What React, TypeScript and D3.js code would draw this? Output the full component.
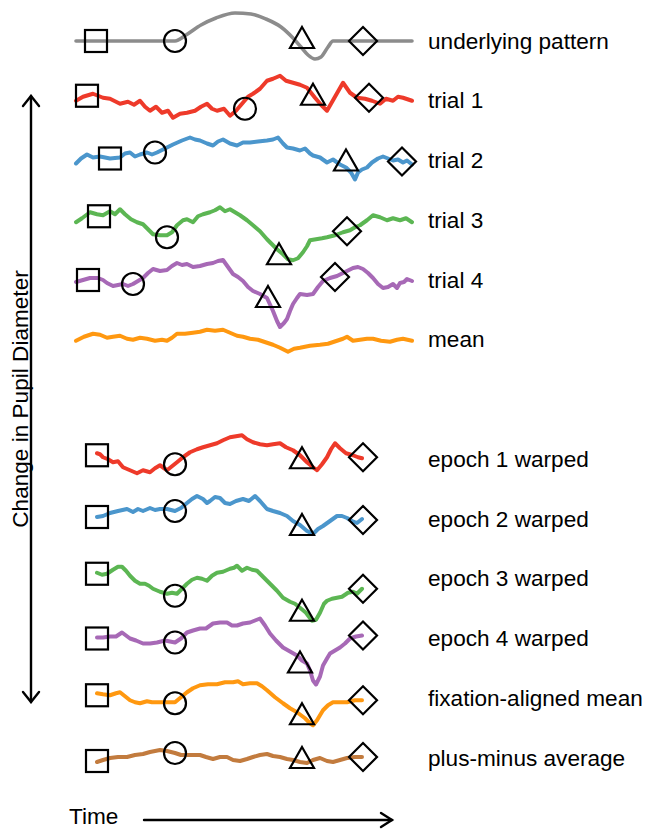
import React from "react";
import * as d3 from "d3";

type P = [number, number];

// time in samples (0..336), value = change in pupil diameter (arbitrary units, up positive)
const underlying: P[] = [[0,0],[99,0],[110,6],[125,16],[140,23],[159,28],[175,27],[190,22],[205,14],[217,3],[225,-6],[232,-14],[239,-18],[245,-16],[252,-6],[257,0],[336,0]];

const trial1: P[] = [[0,0],[7,4],[17,7],[27,3],[34,2],[44,-3],[52,-1],[58,-4],[64,0],[69,-6],[74,-10],[80,-6],[86,-12],[92,-10],[97,-17],[104,-13],[111,-12],[119,-10],[125,-6],[131,-3],[136,-8],[141,-10],[148,-8],[154,-15],[160,-10],[166,-3],[172,4],[177,7],[184,12],[191,20],[197,22],[204,25],[210,20],[217,18],[224,16],[231,13],[239,3],[245,-4],[251,-10],[259,4],[267,18],[274,8],[281,3],[289,2],[296,0],[304,-3],[310,2],[317,0],[322,4],[327,3],[336,0]];
const trial2: P[] = [[0,-3],[5,2],[11,6],[17,3],[24,4],[34,2],[44,3],[49,7],[54,8],[59,4],[64,6],[71,8],[76,6],[81,8],[89,12],[97,16],[106,20],[114,23],[119,21],[124,20],[131,17],[137,15],[142,19],[147,21],[154,17],[161,15],[167,18],[174,18],[182,19],[191,20],[197,21],[202,23],[207,17],[211,13],[217,12],[224,10],[229,12],[234,7],[237,5],[244,3],[251,-2],[257,1],[264,-4],[270,-7],[275,-12],[279,-19],[282,-12],[286,-9],[291,-7],[296,-2],[302,2],[307,4],[312,2],[317,0],[322,1],[327,-2],[331,0],[336,-4]];
const trial3: P[] = [[0,-2],[6,2],[14,8],[21,6],[27,5],[34,9],[39,6],[44,11],[49,6],[55,1],[61,-2],[67,-4],[72,-9],[77,-14],[84,-15],[91,-15],[96,-12],[101,-5],[107,0],[111,1],[117,-2],[122,4],[127,6],[134,8],[139,10],[144,13],[149,9],[154,11],[159,8],[164,5],[171,0],[177,-5],[184,-11],[191,-19],[196,-24],[201,-29],[207,-34],[212,-39],[217,-40],[222,-38],[227,-32],[231,-26],[234,-20],[240,-19],[246,-18],[251,-17],[259,-15],[267,-12],[274,-10],[279,-7],[284,-5],[291,0],[297,5],[304,3],[311,0],[317,2],[324,0],[330,2],[336,-2]];
const trial4: P[] = [[0,-2],[7,0],[14,2],[22,2],[27,0],[31,-3],[37,-6],[42,-5],[47,-4],[52,-6],[57,-4],[62,-1],[67,2],[72,7],[77,11],[84,9],[91,10],[96,14],[101,17],[106,15],[111,16],[117,13],[124,14],[131,16],[137,17],[142,19],[147,20],[152,13],[157,6],[162,3],[167,-1],[172,-7],[177,-11],[184,-14],[191,-18],[197,-31],[201,-41],[204,-47],[208,-43],[211,-39],[214,-31],[217,-24],[221,-18],[224,-14],[231,-15],[237,-14],[242,-7],[247,-1],[254,2],[261,4],[269,8],[277,12],[282,13],[287,11],[292,7],[297,2],[302,-4],[307,-8],[312,-7],[317,-4],[321,-8],[324,-3],[328,-2],[331,1],[336,-1]];
const meanTrials: P[] = [[0,-1],[8,3],[17,6],[24,5],[31,2],[37,3],[44,4],[51,1],[57,0],[64,2],[71,1],[79,-1],[86,0],[91,-1],[96,2],[101,6],[109,6],[117,7],[124,8],[131,10],[139,9],[147,10],[154,7],[161,4],[167,3],[174,1],[182,0],[191,-3],[197,-5],[204,-8],[212,-12],[218,-9],[224,-8],[234,-6],[244,-5],[252,-4],[261,-1],[267,1],[271,3],[277,-1],[284,0],[291,1],[297,1],[305,-1],[314,-2],[321,0],[327,1],[336,-1]];

const epoch1: P[] = [[21,6],[24,5],[27,2],[32,0],[37,-3],[42,-2],[47,-8],[54,-11],[61,-14],[67,-11],[74,-13],[79,-9],[84,-6],[91,-11],[96,-7],[101,-3],[107,2],[114,7],[121,10],[127,12],[134,14],[141,16],[147,19],[154,22],[160,23],[166,24],[171,20],[177,17],[184,15],[191,14],[197,15],[204,16],[210,12],[217,9],[224,4],[231,-3],[237,-8],[241,-11],[246,-5],[251,2],[255,10],[259,16],[264,11],[270,6],[277,4],[282,2],[286,1]];
const epoch2: P[] = [[21,2],[27,3],[34,6],[42,8],[51,10],[57,7],[62,10],[67,8],[74,11],[79,9],[84,10],[91,10],[99,8],[105,11],[111,16],[116,20],[121,23],[127,20],[131,16],[134,18],[139,22],[144,21],[149,16],[154,15],[160,18],[167,20],[173,18],[179,23],[184,18],[191,10],[197,8],[204,6],[211,3],[217,-2],[224,-6],[231,-12],[237,-15],[242,-10],[247,-7],[254,-2],[261,3],[266,3],[271,1],[276,-2],[281,-4],[286,0]];
const epoch3: P[] = [[21,6],[26,4],[31,5],[37,9],[42,12],[46,12],[50,8],[54,3],[59,-2],[64,-5],[69,-5],[73,-7],[77,-10],[84,-13],[91,-15],[96,-14],[101,-15],[106,-10],[111,-5],[116,-1],[121,1],[126,0],[131,-2],[136,3],[141,6],[147,7],[154,10],[158,11],[161,13],[166,8],[171,11],[176,9],[181,8],[187,2],[194,-5],[201,-12],[207,-19],[214,-23],[219,-25],[224,-29],[230,-34],[236,-42],[240,-41],[244,-34],[248,-25],[251,-22],[256,-20],[261,-19],[266,-18],[272,-14],[277,-13],[281,-15],[286,-10]];
const epoch4: P[] = [[21,1],[27,1],[34,2],[40,2],[46,6],[50,3],[54,0],[60,-2],[67,-5],[74,-5],[81,-4],[89,-2],[99,-4],[105,0],[111,6],[117,8],[124,10],[130,10],[137,15],[144,16],[151,16],[156,13],[161,13],[167,15],[174,16],[179,18],[184,20],[189,13],[194,5],[200,-2],[207,-9],[214,-13],[221,-17],[226,-22],[231,-25],[234,-32],[237,-42],[240,-46],[244,-38],[247,-27],[251,-20],[254,-15],[259,-12],[264,-9],[269,-5],[274,0],[280,2],[286,3]];
const fixationMean: P[] = [[21,5],[27,4],[34,3],[40,5],[44,6],[49,2],[54,-2],[59,-4],[64,-5],[71,-3],[76,-4],[81,-4],[89,-4],[99,-4],[105,1],[111,6],[117,10],[124,13],[132,14],[141,14],[149,16],[157,16],[162,17],[167,14],[174,15],[181,15],[186,12],[191,8],[199,1],[207,-5],[214,-10],[221,-14],[229,-20],[234,-25],[237,-27],[241,-22],[247,-12],[252,-7],[257,-4],[264,-4],[271,-4],[279,-2],[286,-2]];
const plusMinus: P[] = [[21,-4],[27,-2],[34,0],[42,1],[51,1],[59,3],[67,4],[74,6],[84,8],[91,7],[99,5],[105,3],[111,3],[117,3],[124,3],[130,1],[137,-1],[144,1],[151,1],[157,-2],[164,-3],[171,-1],[177,1],[184,3],[191,4],[197,2],[204,1],[211,-1],[217,-2],[224,-4],[231,-5],[237,-2],[244,0],[251,-3],[257,-4],[264,-2],[271,0],[279,1],[286,1]];

// marker positions: [square, circle, triangle, diamond] as [time, value]
const markersUnderlying: P[] = [[20,0],[99,0],[226,3],[287,0]];
const markersTrial1: P[] = [[11,5],[169,-8],[237,6],[293,3]];
const markersTrial2: P[] = [[34,2],[79,8],[270,0],[326,-1]];
const markersTrial3: P[] = [[23,4],[91,-17],[203,-34],[271,-11]];
const markersTrial4: P[] = [[12,0],[57,-4],[192,-17],[259,3]];
const markersEpoch1: P[] = [[21,4],[99,-5],[226,1],[287,2]];
const markersEpoch2: P[] = [[21,2],[99,8],[226,-6],[287,-1]];
const markersEpoch3: P[] = [[21,5],[99,-17],[226,-32],[287,-10]];
const markersEpoch4: P[] = [[21,0],[99,-4],[224,-24],[287,3]];
const markersFixation: P[] = [[21,3],[99,-5],[226,-16],[287,-2]];
const markersPlusMinus: P[] = [[21,-3],[99,5],[226,0],[287,1]];

const labels = ["underlying pattern","trial 1","trial 2","trial 3","trial 4","mean","epoch 1 warped","epoch 2 warped","epoch 3 warped","epoch 4 warped","fixation-aligned mean","plus-minus average"];
const slots = [0,1,2,3,4,5,7,8,9,10,11,12];
const colors = ["#8c8c8c","#ee3a2a","#4b96cc","#5cb653","#a769b6","#ff9810","#ee3a2a","#4b96cc","#5cb653","#a769b6","#ff9810","#c27b3e"];
const series: P[][] = [underlying,trial1,trial2,trial3,trial4,meanTrials,epoch1,epoch2,epoch3,epoch4,fixationMean,plusMinus];
const markers: (P[] | null)[] = [markersUnderlying,markersTrial1,markersTrial2,markersTrial3,markersTrial4,null,markersEpoch1,markersEpoch2,markersEpoch3,markersEpoch4,markersFixation,markersPlusMinus];

const W = 647, H = 829;
const FONT = "'Liberation Sans', Arial, Helvetica, sans-serif";
const FS = 22.6;

export default function App() {
  const x = d3.scaleLinear().domain([0, 336]).range([76, 412]);
  const slot = d3.scaleLinear().domain([0, 12]).range([41, 758]);
  const v = d3.scaleLinear().domain([-1, 1]).range([1, -1]);

  const shape = (kind: number, cx: number, cy: number, key: string) => {
    const common = { fill: "none", stroke: "#000", strokeWidth: 2.2, key };
    if (kind === 0) return <rect {...common} x={cx - 11} y={cy - 11} width={22} height={22} />;
    if (kind === 1) return <circle {...common} cx={cx} cy={cy} r={11} />;
    if (kind === 2) return <path {...common} strokeLinejoin="miter" d={`M${cx},${cy - 11}L${cx + 12},${cy + 10}L${cx - 12},${cy + 10}Z`} />;
    return <path {...common} d={`M${cx},${cy - 14}L${cx + 14},${cy}L${cx},${cy + 14}L${cx - 14},${cy}Z`} />;
  };

  return (
    <svg width={W} height={H} style={{ position: "absolute", left: 0, top: 0, background: "#fff" }} fontFamily={FONT}>
      {series.map((data, i) => {
        const cy = slot(slots[i]);
        const line = d3.line<P>()
          .x((d) => x(d[0]))
          .y((d) => cy + v(d[1]))
          .curve(i === 0 ? d3.curveMonotoneX : d3.curveLinear);
        return (
          <g key={i}>
            <path d={line(data) || ""} fill="none" stroke={colors[i]} strokeWidth={i === 0 ? 3.6 : 4} strokeLinejoin="round" strokeLinecap="round" />
            {markers[i] && markers[i]!.map((m, k) => shape(k, x(m[0]), cy + v(m[1]), `m${k}`))}
            <text x={428} y={cy + 7.5} fontSize={FS} fill="#000">{labels[i]}</text>
          </g>
        );
      })}
      {/* vertical axis arrow */}
      <g stroke="#000" strokeWidth={2.4} fill="none" strokeLinecap="round">
        <line x1={31} y1={96} x2={31} y2={702} />
        <path d="M23,106L31,96L39,106" />
        <path d="M23,692L31,702L39,692" />
      </g>
      <text transform="translate(28,399) rotate(-90)" textAnchor="middle" fontSize={FS} fill="#000">Change in Pupil Diameter</text>
      {/* time arrow */}
      <text x={69} y={824} fontSize={FS} fill="#000">Time</text>
      <g stroke="#000" strokeWidth={2.4} fill="none" strokeLinecap="round">
        <line x1={144} y1={820} x2={392} y2={820} />
        <path d="M381,813L392,820L381,827" />
      </g>
    </svg>
  );
}
